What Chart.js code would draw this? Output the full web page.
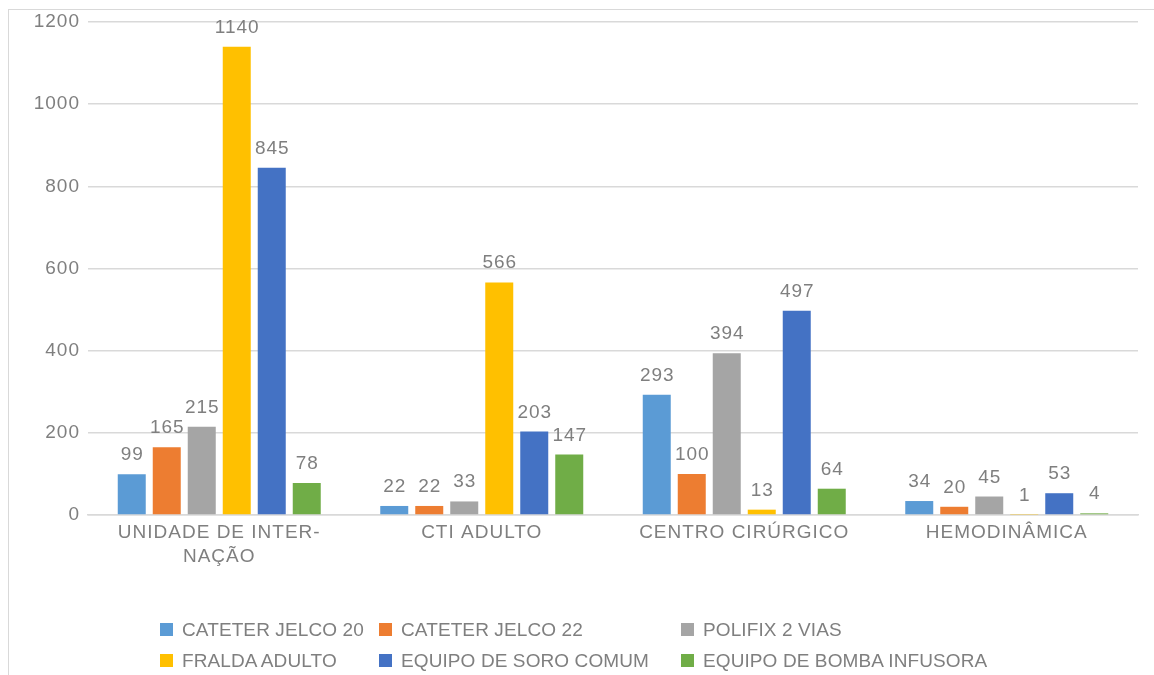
<!DOCTYPE html>
<html>
<head>
<meta charset="utf-8">
<script src="https://cdn.jsdelivr.net/npm/chart.js@4"></script>
<style>
  html, body { margin: 0; padding: 0; background: #ffffff; }
  #wrap { position: relative; width: 1154px; height: 675px; overflow: hidden; font-family: "Liberation Sans", Arial, sans-serif; }
  #frame { position: absolute; left: 8px; top: 9px; width: 1200px; height: 700px; border-left: 1.5px solid #d9d9d9; border-top: 1.5px solid #d9d9d9; box-sizing: border-box; }
  canvas { position: absolute; left: 0; top: 0; }
  #legend { position: absolute; left: 160px; top: 614px; display: grid; grid-template-columns: 219px 302px auto; row-gap: 0; }
  .item { display: flex; align-items: center; height: 31px; font-size: 19px; color: #7f7f7f; white-space: nowrap; letter-spacing: 0.1px; }
  .box { width: 13px; height: 13px; margin-right: 9px; flex: none; }
</style>
</head>
<body>
<div id="wrap">
  <div id="frame"></div>
  <canvas id="c" width="1154" height="675"></canvas>
  <div id="legend"></div>
</div>
<script>
const categories = [["UNIDADE DE INTER-", "NAÇÃO"], "CTI ADULTO", "CENTRO CIRÚRGICO", "HEMODINÂMICA"];
const seriesNames = ["CATETER JELCO 20", "CATETER JELCO 22", "POLIFIX 2 VIAS", "FRALDA ADULTO", "EQUIPO DE SORO COMUM", "EQUIPO DE BOMBA INFUSORA"];
const cateterJelco20 = [99, 22, 293, 34];
const cateterJelco22 = [165, 22, 100, 20];
const polifix2Vias = [215, 33, 394, 45];
const fraldaAdulto = [1140, 566, 13, 1];
const equipoSoroComum = [845, 203, 497, 53];
const equipoBombaInfusora = [78, 147, 64, 4];
const yTicks = [0, 200, 400, 600, 800, 1000, 1200];

const seriesValues = [cateterJelco20, cateterJelco22, polifix2Vias, fraldaAdulto, equipoSoroComum, equipoBombaInfusora];
const colors = ["#5B9BD5", "#ED7D31", "#A5A5A5", "#FFC000", "#4472C4", "#70AD47"];
const textColor = "#7f7f7f";
const fontFamily = "'Liberation Sans', Arial, sans-serif";

const spacing = {
  id: "spacing",
  beforeDraw(chart) { chart.ctx.letterSpacing = "1px"; }
};

const dataLabels = {
  id: "dataLabels",
  afterDatasetsDraw(chart) {
    const ctx = chart.ctx;
    ctx.save();
    ctx.letterSpacing = "1px";
    ctx.font = "19px " + fontFamily;
    ctx.fillStyle = textColor;
    ctx.textAlign = "center";
    ctx.textBaseline = "alphabetic";
    chart.data.datasets.forEach((ds, i) => {
      const meta = chart.getDatasetMeta(i);
      meta.data.forEach((bar, j) => {
        ctx.fillText(String(ds.data[j]), bar.x + 0.5, bar.y - 14);
      });
    });
    ctx.restore();
  }
};

new Chart(document.getElementById("c"), {
  type: "bar",
  data: {
    labels: categories,
    datasets: seriesNames.map((name, i) => ({
      label: name,
      data: seriesValues[i],
      backgroundColor: colors[i],
      borderWidth: 0,
      categoryPercentage: 0.8,
      barPercentage: 0.8
    }))
  },
  options: {
    responsive: false,
    animation: false,
    devicePixelRatio: 1,
    layout: { padding: { top: 22, right: 16, left: 0, bottom: 0 } },
    plugins: { legend: { display: false }, tooltip: { enabled: false } },
    scales: {
      x: {
        grid: { display: false, drawTicks: false },
        border: { display: true, color: "#d9d9d9", width: 1.5 },
        ticks: { color: textColor, font: { family: fontFamily, size: 19, lineHeight: 1.3 }, padding: 5, maxRotation: 0, autoSkip: false },
        afterFit(scale) { scale.height = 160; }
      },
      y: {
        min: 0,
        max: 1200,
        afterBuildTicks(scale) { scale.ticks = yTicks.map(v => ({ value: v })); },
        grid: { color: "#d9d9d9", lineWidth: 1.5, drawTicks: false },
        border: { display: false },
        ticks: { color: textColor, font: { family: fontFamily, size: 19 }, padding: 8, callback: v => String(v) },
        afterFit(scale) { scale.width = 88; }
      }
    }
  },
  plugins: [spacing, dataLabels]
});

const legend = document.getElementById("legend");
seriesNames.forEach((name, i) => {
  const item = document.createElement("div");
  item.className = "item";
  const box = document.createElement("span");
  box.className = "box";
  box.style.background = colors[i];
  const txt = document.createElement("span");
  txt.textContent = name;
  item.appendChild(box);
  item.appendChild(txt);
  legend.appendChild(item);
});
</script>
</body>
</html>
